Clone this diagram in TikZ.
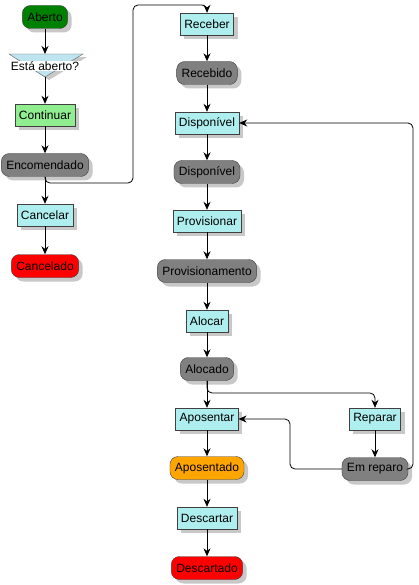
\documentclass[tikz,border=0pt]{standalone}
\usepackage{fontspec}
\setmainfont{Liberation Sans}
\usetikzlibrary{shadows,arrows.meta}
\definecolor{startgreen}{RGB}{0, 128, 0}
\definecolor{taskgreen}{RGB}{144, 238, 144}
\definecolor{taskcyan}{RGB}{175, 238, 238}
\definecolor{stategray}{RGB}{128, 128, 128}
\definecolor{endred}{RGB}{255, 0, 0}
\definecolor{retiredorange}{RGB}{255, 165, 0}
\definecolor{decisionblue}{RGB}{190, 228, 240}
\definecolor{shadowgray}{RGB}{200, 200, 200}

\begin{document}
\begin{tikzpicture}[x=1pt, y=-1pt,
    base/.style={draw=black!75, font=\fontsize{12}{14}\selectfont, text=black,
        minimum height=22pt, inner ysep=0pt,
        drop shadow={shadow xshift=4pt, shadow yshift=-4pt, fill=shadowgray, opacity=1}},
    task/.style={base, fill=taskcyan, inner xsep=4pt},
    state/.style={base, fill=stategray, rounded corners=8pt, inner xsep=5pt, minimum height=23pt},
    flow/.style={black, line width=0.8pt, -{Stealth[length=8pt, width=7pt]}},
    route/.style={flow, rounded corners=5pt}]
    \useasboundingbox (0,0) rectangle (418,585);

    % Left column
    \node[state, fill=startgreen] (aberto) at (45,17) {Aberto};
    \filldraw[draw=black!60, fill=decisionblue,
        drop shadow={shadow xshift=4pt, shadow yshift=-3pt, fill=shadowgray, opacity=1}]
        (9,54) coordinate (dectopleft) -- (83,54) -- (45,77) coordinate (decbot) -- cycle;
    \coordinate (dectop) at (45,54);
    \node[fill=white, inner sep=0.5pt, font=\fontsize{12}{14}\selectfont] (aberta) at (45,66) {Está aberto?};
    \node[task, fill=taskgreen] (continuar) at (45,115) {Continuar};
    \node[state] (encomendado) at (45,165) {Encomendado};
    \node[task] (cancelar) at (45,215) {Cancelar};
    \node[state, fill=endred] (cancelado) at (45,266) {Cancelado};

    % Middle column
    \node[task] (receber) at (207,24) {Receber};
    \node[state] (recebido) at (207,73) {Recebido};
    \node[task] (disponivel) at (207,123) {Disponível};
    \node[state] (disponivelst) at (207,172) {Disponível};
    \node[task] (provisionar) at (207,221) {Provisionar};
    \node[state] (provisionamento) at (207,271) {Provisionamento};
    \node[task] (alocar) at (207,321) {Alocar};
    \node[state] (alocado) at (207,369) {Alocado};
    \node[task] (aposentar) at (207,419) {Aposentar};
    \node[state, fill=retiredorange] (aposentado) at (207,468) {Aposentado};
    \node[task] (descartar) at (207,518) {Descartar};
    \node[state, fill=endred] (descartado) at (207,568) {Descartado};

    % Right column
    \node[task] (reparar) at (375,419) {Reparar};
    \node[state] (emreparo) at (375,469) {Em reparo};

    % Turning points
    \coordinate (encturn) at (133,183);
    \coordinate (rectop) at (133,5);
    \coordinate (alocturn) at (300,393);
    \coordinate (retback) at (290,419);
    \coordinate (dispback) at (413,123);

    % Straight flow
    \draw[flow] (aberto) -- (dectop);
    \draw[flow] (decbot) -- (continuar);
    \draw[flow] (continuar) -- (encomendado);
    \draw[flow] (encomendado) -- (cancelar);
    \draw[flow] (cancelar) -- (cancelado);
    \draw[flow] (receber) -- (recebido);
    \draw[flow] (recebido) -- (disponivel);
    \draw[flow] (disponivel) -- (disponivelst);
    \draw[flow] (disponivelst) -- (provisionar);
    \draw[flow] (provisionar) -- (provisionamento);
    \draw[flow] (provisionamento) -- (alocar);
    \draw[flow] (alocar) -- (alocado);
    \draw[flow] (alocado) -- (aposentar);
    \draw[flow] (aposentar) -- (aposentado);
    \draw[flow] (aposentado) -- (descartar);
    \draw[flow] (descartar) -- (descartado);
    \draw[flow] (reparar) -- (emreparo);

    % Routed flow
    \draw[route] (encomendado.south) |- (encturn) -- (rectop) -| (receber.north);
    \draw[route] (alocado.south) |- (alocturn) -| (reparar.north);
    \draw[route] (emreparo.west) -| (retback) -- (aposentar.east);
    \draw[route] (emreparo.east) -| (dispback) -- (disponivel.east);
\end{tikzpicture}
\end{document}
